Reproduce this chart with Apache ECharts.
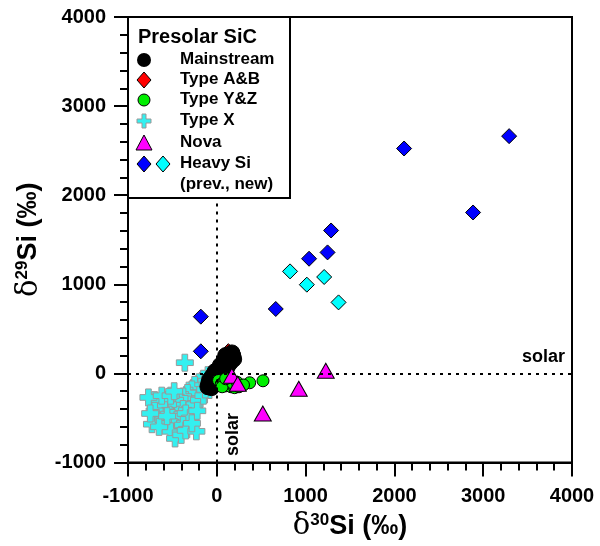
<!DOCTYPE html>
<html>
<head>
<meta charset="UTF-8">
<title>Presolar SiC silicon isotopes</title>
<script src="https://cdn.jsdelivr.net/npm/echarts@6/dist/echarts.min.js"></script>
<style>
  body { margin: 0; background: #fff; }
  #main { width: 600px; height: 546px; }
</style>
</head>
<body>
<div id="main"></div>
<script>
// axis ticks
const xTicks = [-1000, 0, 1000, 2000, 3000, 4000];
const yTicks = [-1000, 0, 1000, 2000, 3000, 4000];

// [d30Si, d29Si] in permil
const typeX = [
  [-60, -30], [-90, -60], [-100, -20], [-150, -60], [-120, -110], [-200, -100], [-180, -150],
  [-250, -130], [-230, -200], [-280, -180], [-300, -250], [-260, -280], [-330, -220],
  [-350, -300], [-380, -260], [-400, -330], [-320, -350], [-420, -280], [-450, -350],
  [-470, -300], [-500, -380], [-430, -420], [-380, -400], [-300, -400], [-250, -350],
  [-520, -450], [-550, -350], [-600, -400], [-580, -300], [-650, -350], [-700, -300],
  [-770, -270], [-620, -250], [-520, -250], [-480, -200], [-700, -420], [-680, -500],
  [-730, -570], [-600, -520], [-550, -560], [-500, -500], [-450, -520], [-400, -480],
  [-350, -450], [-300, -500], [-480, -600], [-420, -620], [-380, -580], [-520, -650],
  [-470, -730], [-400, -690], [-350, -640], [-230, -650], [-280, -560], [-200, -300],
  [-150, -250], [-220, -420], [-650, -600], [-560, -480], [-750, -450], [-130, -180],
  [-360, 120]
];
const typeAB = [[130, 250], [100, 160], [60, 120], [0, 20], [-30, -30]];
const mainstream = [
  [-60, -100], [-40, -60], [-50, -30], [-20, -50], [-10, 0], [0, -20], [10, 30],
  [20, 10], [30, 50], [40, 20], [50, 80], [60, 50], [70, 100], [80, 70], [90, 120],
  [100, 90], [110, 150], [120, 130], [130, 170], [140, 150], [150, 190], [160, 170],
  [170, 200], [-30, -90], [0, -70], [30, -20], [60, 0], [90, 40], [120, 80],
  [150, 120], [-70, -130], [-80, -70], [40, -40], [80, 10], [110, 60], [170, 230],
  [180, 200], [40, 90], [100, 200], [-20, 20], [130, 110], [-40, -120], [10, -40],
  [190, 160], [60, -20], [-90, -110], [-100, -150], [-60, -160]
];
const typeYZ = [
  [20, -80], [50, -120], [80, -100], [100, -140], [130, -130], [160, -150], [60, -150],
  [200, -160], [250, -150], [180, -110], [370, -105], [520, -83], [230, -100],
  [100, -60], [300, -130]
];
const nova = [[1227, 30], [923, -172], [518, -450], [169, -27], [236, -116]];
const heavyPrev = [
  [2109, 2524], [3292, 2663], [2886, 1806], [1287, 1604], [1247, 1358],
  [1039, 1287], [664, 723], [-180, 637], [-180, 248]
];
const heavyNew = [[825, 1145], [1014, 996], [1209, 1082], [1371, 797]];

const FONT = 'Liberation Sans, Arial, sans-serif';
const crossPath = 'path://M5,0h5v5h5v5h-5v5h-5v-5h-5v-5h5z';

const chart = echarts.init(document.getElementById('main'), null, { renderer: 'canvas' });

function axisName(num) {
  return '{d|δ}{s|' + num + '}{t|Si (‰)}';
}
const nameRich = {
  d: { fontFamily: 'DejaVu Serif', fontSize: 29, fontWeight: 'normal', color: '#000' },
  s: { fontFamily: FONT, fontSize: 17, fontWeight: 'bold', color: '#000', padding: [0, 0, 13, 0] },
  t: { fontFamily: FONT, fontSize: 27, fontWeight: 'bold', color: '#000' }
};

const axisCommon = {
  type: 'value',
  min: -1000,
  max: 4000,
  interval: 1000,
  axisLine: { onZero: false, lineStyle: { color: '#000', width: 2 } },
  axisTick: { show: true, length: 14, lineStyle: { color: '#000', width: 2 } },
  minorTick: { show: true, splitNumber: 5, length: 8, lineStyle: { color: '#000', width: 2 } },
  splitLine: { show: false },
  nameLocation: 'middle',
  nameTextStyle: { rich: nameRich }
};

function style(fill, stroke) {
  return { color: fill, borderColor: stroke, borderWidth: 1, opacity: 1 };
}

chart.setOption({
  animation: false,
  backgroundColor: '#fff',
  grid: {
    left: 128, right: 28, top: 17, bottom: 83,
    show: true, borderColor: '#000', borderWidth: 2, backgroundColor: 'transparent'
  },
  xAxis: Object.assign({}, axisCommon, {
    name: axisName(30),
    nameGap: 49,
    axisLabel: {
      margin: 24, fontFamily: FONT, fontSize: 20, fontWeight: 'bold', color: '#000',
      formatter: v => xTicks.includes(v) ? String(v) : ''
    }
  }),
  yAxis: Object.assign({}, axisCommon, {
    name: axisName(29),
    nameGap: 84,
    axisLabel: {
      margin: 22, fontFamily: FONT, fontSize: 20, fontWeight: 'bold', color: '#000',
      formatter: v => yTicks.includes(v) ? String(v) : ''
    }
  }),
  series: [
    {
      name: 'Type X', type: 'scatter', data: typeX, symbol: crossPath, symbolSize: 17,
      itemStyle: style('#33f0f0', '#999'),
      markLine: {
        silent: true, symbol: 'none', label: { show: false },
        lineStyle: { color: '#000', width: 2, type: [3, 5], opacity: 1 },
        data: [{ xAxis: 0 }, { yAxis: 0 }]
      }
    },
    {
      name: 'Type A&B', type: 'scatter', data: typeAB, symbol: 'diamond', symbolSize: 15,
      itemStyle: style('#ff0000', '#000')
    },
    {
      name: 'Mainstream', type: 'scatter', data: mainstream, symbol: 'circle', symbolSize: 16,
      itemStyle: style('#000', '#000')
    },
    {
      name: 'Type Y&Z', type: 'scatter', data: typeYZ, symbol: 'circle', symbolSize: 12,
      itemStyle: style('#00ee00', '#000')
    },
    {
      name: 'Nova', type: 'scatter', data: nova, symbol: 'triangle', symbolSize: [17, 15],
      itemStyle: style('#ff00ff', '#000')
    },
    {
      name: 'Heavy Si (prev.)', type: 'scatter', data: heavyPrev, symbol: 'diamond', symbolSize: 15,
      itemStyle: style('#0000ff', '#000')
    },
    {
      name: 'Heavy Si (new)', type: 'scatter', data: heavyNew, symbol: 'diamond', symbolSize: 15,
      itemStyle: style('#00ffff', '#000')
    }
  ],
  graphic: [
    // solar labels
    { type: 'text', left: 522, top: 348, z: 50,
      style: { text: 'solar', font: 'bold 18px ' + FONT, fill: '#000' } },
    { type: 'text', x: 224, y: 456, rotation: Math.PI / 2, z: 50,
      style: { text: 'solar', font: 'bold 18px ' + FONT, fill: '#000' } },
    // legend box
    { type: 'rect', z: 100, shape: { x: 128, y: 17, width: 162, height: 181 },
      style: { fill: '#fff', stroke: '#000', lineWidth: 2 } },
    { type: 'text', z: 101, x: 138, y: 27, style: { text: 'Presolar SiC', font: 'bold 20px ' + FONT, fill: '#000' } },
    { type: 'circle', z: 101, shape: { cx: 144, cy: 60, r: 7 }, style: { fill: '#000' } },
    { type: 'polygon', z: 101, shape: { points: [[144, 72], [151, 80], [144, 88], [137, 80]] }, style: { fill: '#ff0000', stroke: '#000', lineWidth: 1 } },
    { type: 'circle', z: 101, shape: { cx: 144, cy: 100, r: 6 }, style: { fill: '#00ee00', stroke: '#000', lineWidth: 1 } },
    { type: 'polygon', z: 101, shape: { points: [[142, 114], [146, 114], [146, 119], [151, 119], [151, 123], [146, 123], [146, 128], [142, 128], [142, 123], [137, 123], [137, 119], [142, 119]] }, style: { fill: '#33f0f0', stroke: '#999', lineWidth: 1 } },
    { type: 'polygon', z: 101, shape: { points: [[144, 135], [152, 150], [136, 150]] }, style: { fill: '#ff00ff', stroke: '#000', lineWidth: 1 } },
    { type: 'polygon', z: 101, shape: { points: [[144, 156], [151, 164], [144, 172], [137, 164]] }, style: { fill: '#0000ff', stroke: '#000', lineWidth: 1 } },
    { type: 'polygon', z: 101, shape: { points: [[163, 156], [170, 164], [163, 172], [156, 164]] }, style: { fill: '#00ffff', stroke: '#000', lineWidth: 1 } },
    { type: 'text', z: 101, x: 180, y: 51, style: { text: 'Mainstream', font: 'bold 17px ' + FONT, fill: '#000' } },
    { type: 'text', z: 101, x: 180, y: 71, style: { text: 'Type A&B', font: 'bold 17px ' + FONT, fill: '#000' } },
    { type: 'text', z: 101, x: 180, y: 91, style: { text: 'Type Y&Z', font: 'bold 17px ' + FONT, fill: '#000' } },
    { type: 'text', z: 101, x: 180, y: 112, style: { text: 'Type X', font: 'bold 17px ' + FONT, fill: '#000' } },
    { type: 'text', z: 101, x: 180, y: 134, style: { text: 'Nova', font: 'bold 17px ' + FONT, fill: '#000' } },
    { type: 'text', z: 101, x: 180, y: 155, style: { text: 'Heavy Si', font: 'bold 17px ' + FONT, fill: '#000' } },
    { type: 'text', z: 101, x: 180, y: 176, style: { text: '(prev., new)', font: 'bold 17px ' + FONT, fill: '#000' } }
  ]
});
</script>
</body>
</html>
